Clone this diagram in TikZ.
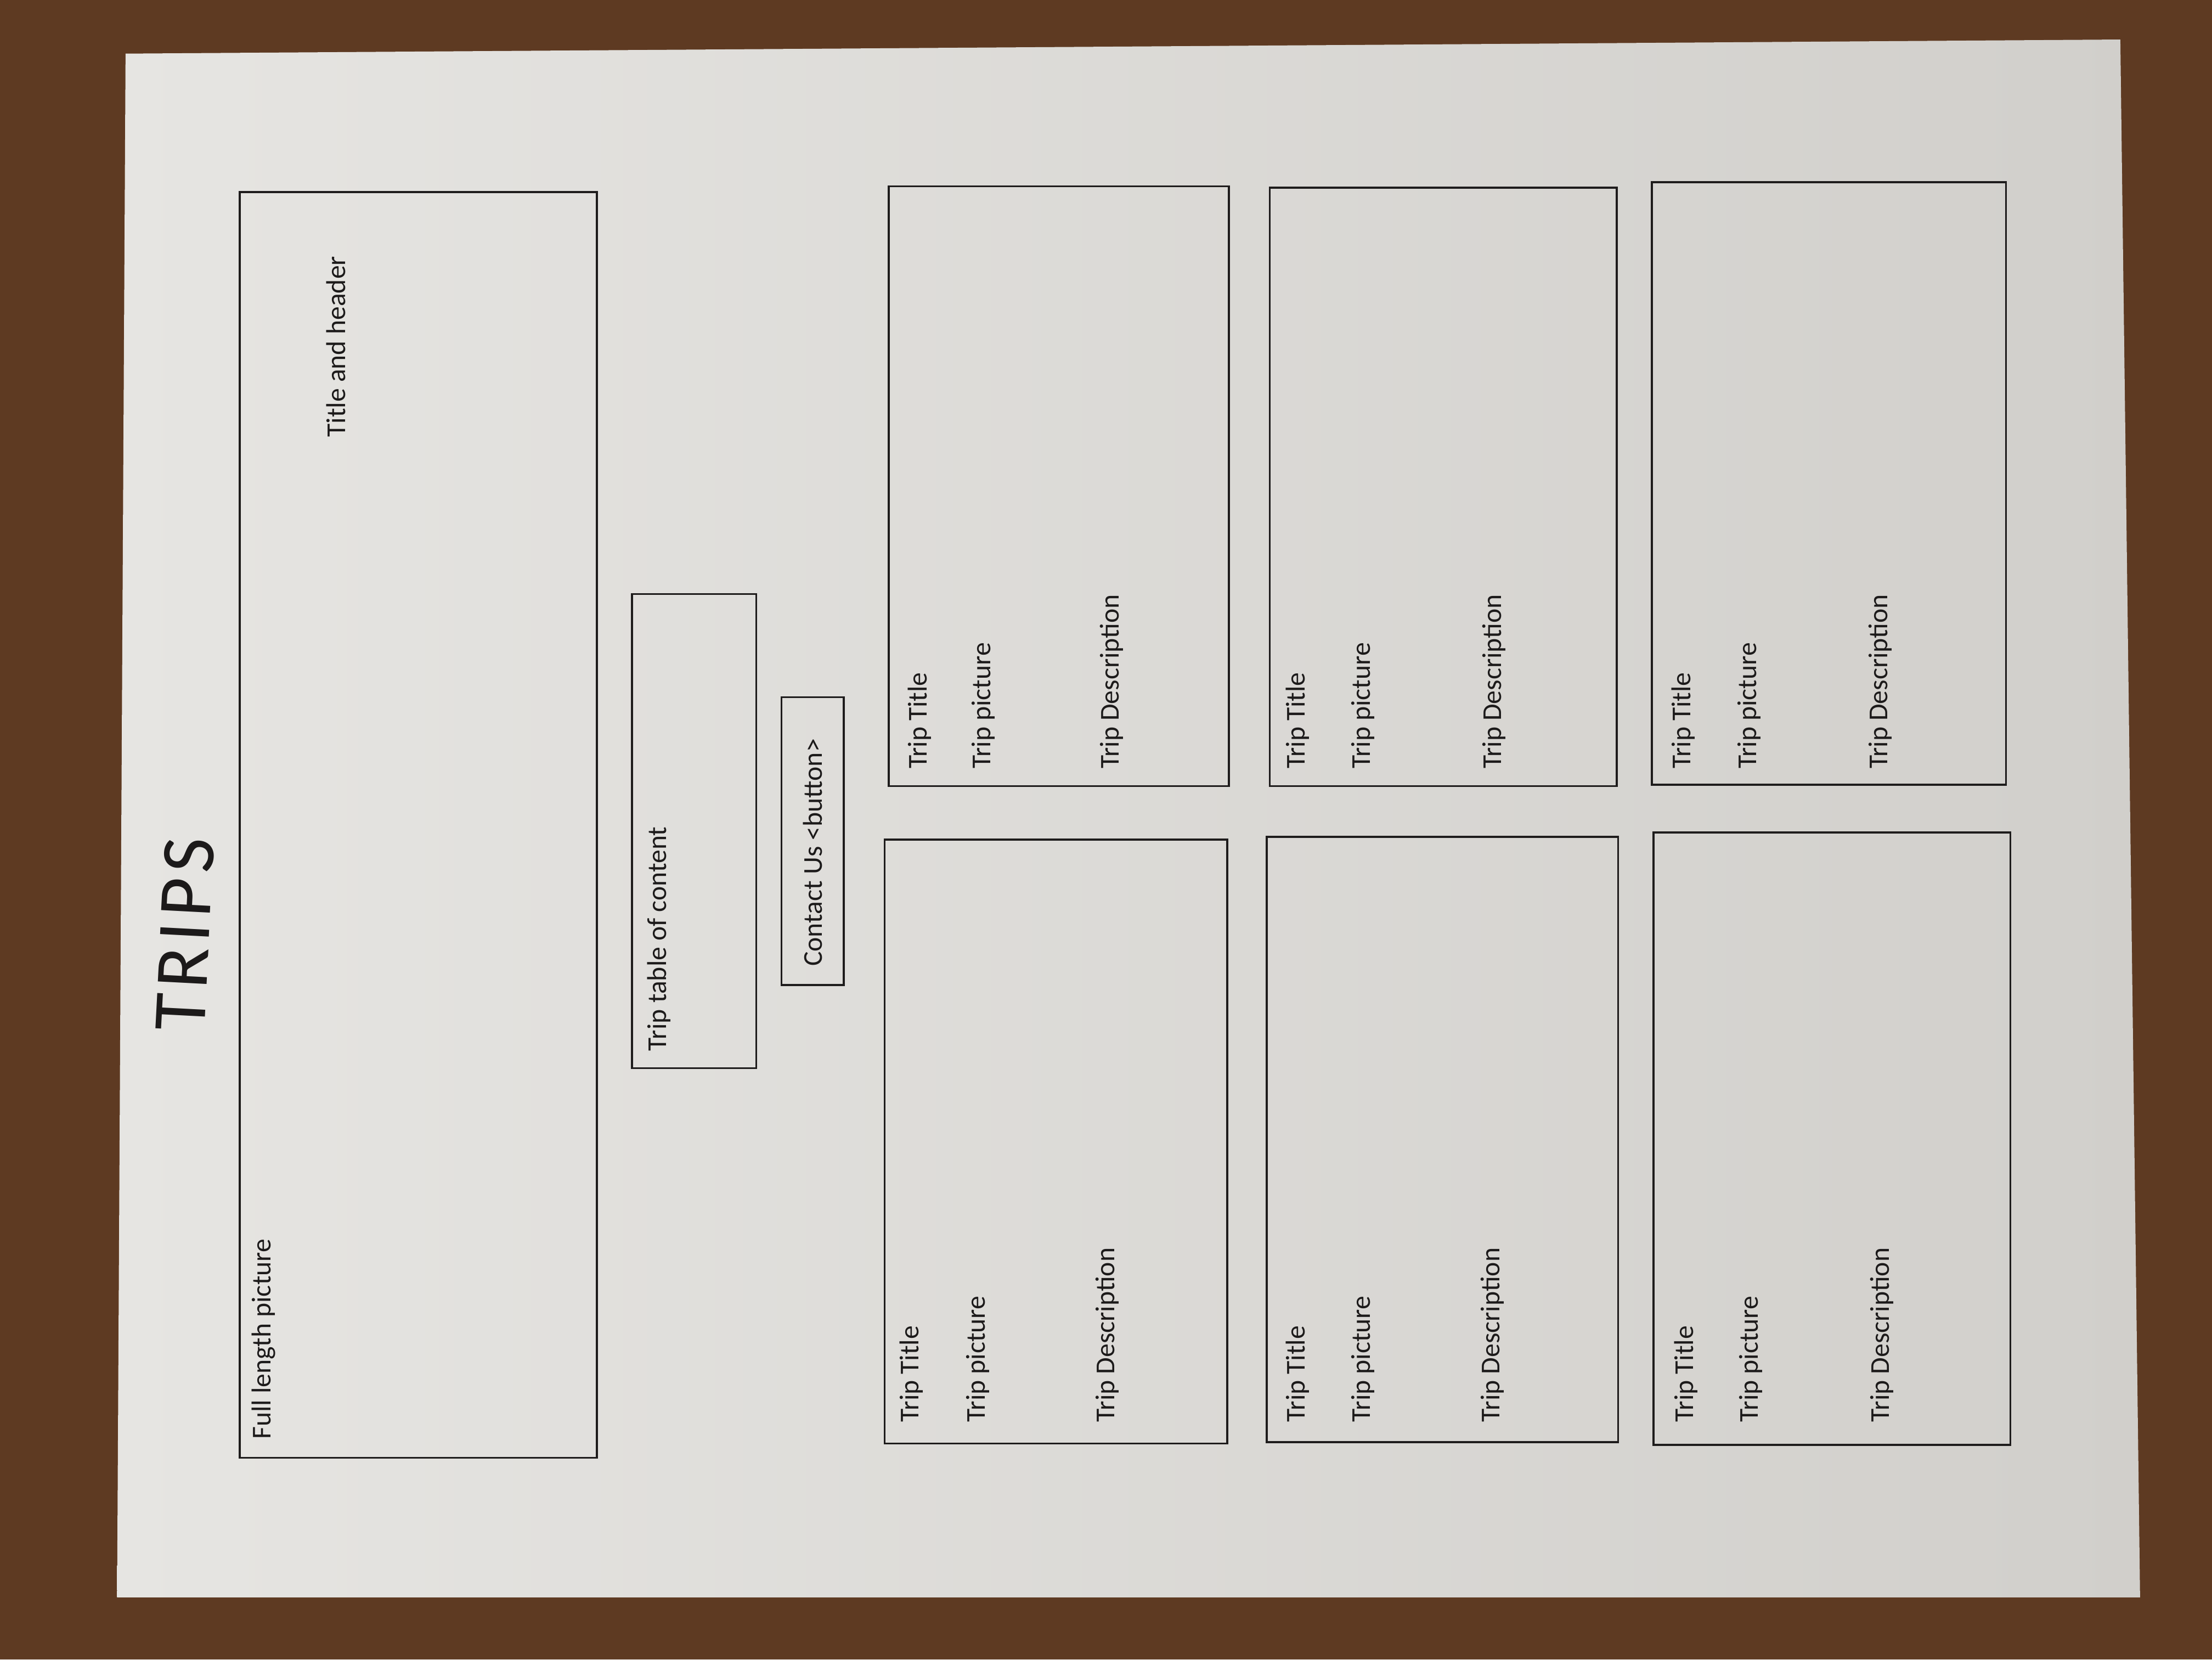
\documentclass[tikz,border=0pt]{standalone}
\usepackage{fontspec}
\setmainfont{Carlito}

\definecolor{woodbrown}{RGB}{94,58,34}
\definecolor{paperlight}{RGB}{230,229,226}
\definecolor{paperdark}{RGB}{209,207,203}
\definecolor{inkline}{RGB}{30,28,28}
\definecolor{inktext}{RGB}{28,26,26}

\begin{document}
\begin{tikzpicture}[x=0.3mm, y=-0.3mm,
  wirebox/.style={draw=inkline, line width=0.42mm},
  sketchtext/.style={anchor=west, rotate=90, inner sep=0pt, text=inktext, font=\fontsize{16.5}{20}\selectfont}]

% Table and sheet of paper
\fill[woodbrown] (0, 0) rectangle (1568, 1176);
\useasboundingbox (0, 0) rectangle (1568, 1176);
\shade[left color=paperlight, right color=paperdark] (89, 38) -- (1503, 28) -- (1517, 1132) -- (83, 1132) -- cycle;

% Page heading
\node[rotate=87, inner sep=0pt, text=inktext, font=\fontsize{46}{50}\selectfont\addfontfeatures{LetterSpace=7}] (pagetitle) at (131, 662) {TRIPS};

% Header with the big picture
\draw[wirebox] (170, 136) rectangle (423, 1033);
\node[sketchtext] (headertitle) at (238, 310) {Title and header};
\node[sketchtext] (headerpic) at (187, 1020) {Full length picture};

% Table of content and button
\draw[wirebox] (448, 421) rectangle (536, 757);
\node[sketchtext] (toc) at (467, 745) {Trip table of content};
\draw[wirebox] (554, 494) rectangle (598, 698);
\node[sketchtext] (contact) at (576, 685) {Contact Us <button>};

% Trip cards, upper half of the sheet
\draw[wirebox] (630, 132) rectangle (871, 557);
\node[sketchtext] (titleA) at (652, 545) {Trip Title};
\node[sketchtext] (picA) at (697, 545) {Trip picture};
\node[sketchtext] (descA) at (788, 545) {Trip Description};
\draw[wirebox] (900, 133) rectangle (1146, 557);
\node[sketchtext] (titleB) at (920, 545) {Trip Title};
\node[sketchtext] (picB) at (966, 545) {Trip picture};
\node[sketchtext] (descB) at (1059, 545) {Trip Description};
\draw[wirebox] (1171, 129) rectangle (1422, 556);
\node[sketchtext] (titleC) at (1193, 545) {Trip Title};
\node[sketchtext] (picC) at (1240, 545) {Trip picture};
\node[sketchtext] (descC) at (1333, 545) {Trip Description};

% Trip cards, lower half of the sheet
\draw[wirebox] (627, 595) rectangle (870, 1023);
\node[sketchtext] (titleD) at (646, 1008) {Trip Title};
\node[sketchtext] (picD) at (693, 1008) {Trip picture};
\node[sketchtext] (descD) at (785, 1008) {Trip Description};
\draw[wirebox] (898, 593) rectangle (1147, 1022);
\node[sketchtext] (titleE) at (920, 1008) {Trip Title};
\node[sketchtext] (picE) at (966, 1008) {Trip picture};
\node[sketchtext] (descE) at (1058, 1008) {Trip Description};
\draw[wirebox] (1172, 590) rectangle (1425, 1024);
\node[sketchtext] (titleF) at (1195, 1008) {Trip Title};
\node[sketchtext] (picF) at (1241, 1008) {Trip picture};
\node[sketchtext] (descF) at (1334, 1008) {Trip Description};
\end{tikzpicture}
\end{document}
